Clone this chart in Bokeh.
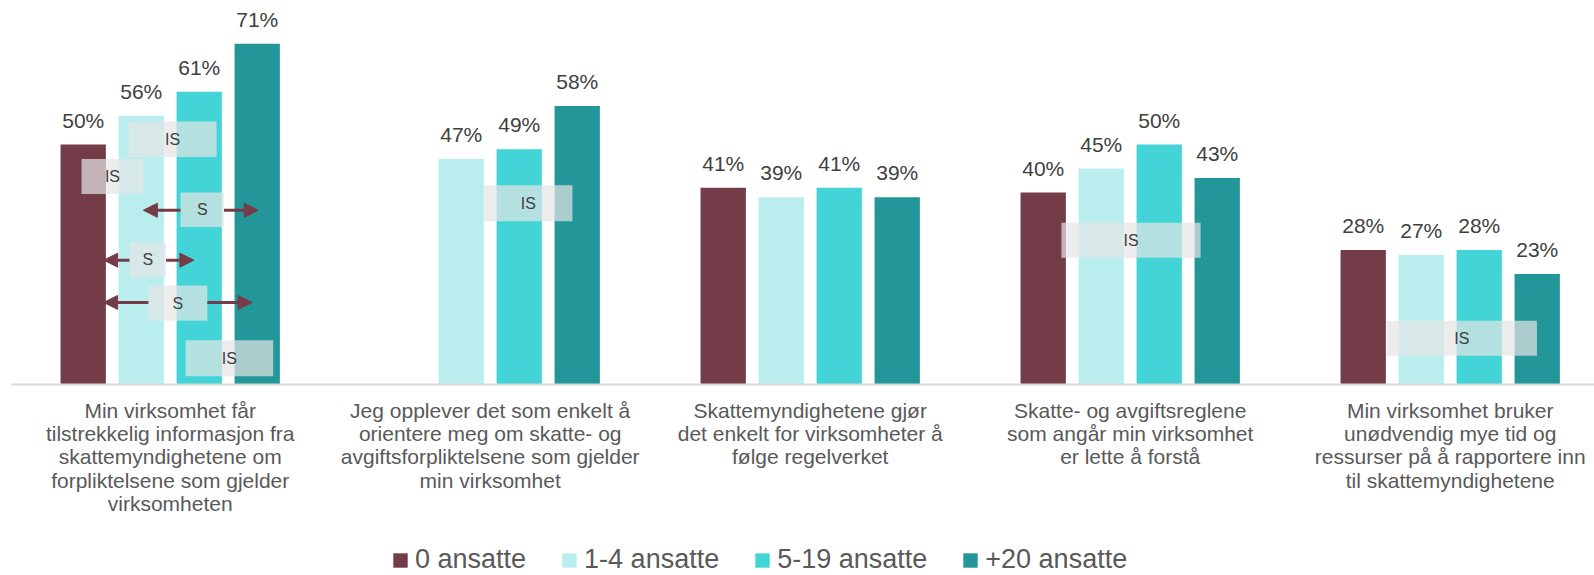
from bokeh.plotting import figure
from bokeh.models import (ColumnDataSource, Range1d, Legend, LegendItem, Span,
                          BoxAnnotation, Label, Arrow, NormalHead)
from bokeh.core.properties import value
from bokeh.embed import file_html
from bokeh.resources import INLINE

# ---------------- data ----------------
categories = [
    "Min virksomhet får\ntilstrekkelig informasjon fra\nskattemyndighetene om\nforpliktelsene som gjelder\nvirksomheten",
    "Jeg opplever det som enkelt å\norientere meg om skatte- og\navgiftsforpliktelsene som gjelder\nmin virksomhet",
    "Skattemyndighetene gjør\ndet enkelt for virksomheter å\nfølge regelverket",
    "Skatte- og avgiftsreglene\nsom angår min virksomhet\ner lette å forstå",
    "Min virksomhet bruker\nunødvendig mye tid og\nressurser på å rapportere inn\ntil skattemyndighetene",
]
series_names = ["0 ansatte", "1-4 ansatte", "5-19 ansatte", "+20 ansatte"]
ansatte_0 = [50, None, 41, 40, 28]
ansatte_1_4 = [56, 47, 39, 45, 27]
ansatte_5_19 = [61, 49, 41, 50, 28]
ansatte_20 = [71, 58, 39, 43, 23]
series_values = [ansatte_0, ansatte_1_4, ansatte_5_19, ansatte_20]

# significance overlays ("IS" boxes): (left, right, top, bottom) in data units
is_boxes = [
    (-0.130, 0.145, 54.8, 47.4),
    (-0.277, -0.084, 47.0, 39.7),
    (0.048, 0.322, 9.2, 1.7),
    (0.981, 1.257, 41.5, 34.0),
    (2.785, 3.220, 33.7, 26.4),
    (3.802, 4.271, 13.3, 6.0),
]
# "S" boxes: (left, right, top, bottom, arrow_y, left_tip, right_tip)
s_boxes = [
    (0.032, 0.168, 40.0, 32.8, 36.3, -0.084, 0.275),
    (-0.127, -0.013, 29.6, 22.4, 25.9, -0.208, 0.074),
    (-0.068, 0.116, 20.6, 13.3, 17.1, -0.208, 0.256),
]

colors = ["#743C48", "#BAEEEE", "#42D4D6", "#229698"]
FONT = "Liberation Sans"

pitch = 0.18125
bar_w = 0.1416

p = figure(width=1594, height=575, output_backend="svg", toolbar_location=None,
           x_range=Range1d(-0.4991, 4.4509), y_range=Range1d(-39.79, 80),
           x_axis_location=None, y_axis_location=None,
           min_border_left=10, min_border_right=0, min_border_top=0, min_border_bottom=0)
p.outline_line_color = None
p.xgrid.visible = False
p.ygrid.visible = False
p.background_fill_color = "white"

# category axis: baseline + category labels
p.add_layout(Span(location=0, dimension="width", line_color="#D9D9D9", line_width=2))
cat_src = ColumnDataSource(dict(x=list(range(len(categories))), y=[0] * len(categories),
                                text=categories))
p.text(x="x", y="y", text="text", source=cat_src, text_align="center", text_baseline="top",
       y_offset=14, text_font=value(FONT), text_font_size="21px", text_color="#595959",
       text_line_height=1.02)

renderers = []
for i, vals in enumerate(series_values):
    xs, ys, labels = [], [], []
    for g, v in enumerate(vals):
        if v is None:
            continue
        xs.append(g + (i - 1.5) * pitch)
        ys.append(v)
        labels.append(f"{v}%")
    src = ColumnDataSource(dict(x=xs, top=ys, label=labels))
    r = p.vbar(x="x", top="top", width=bar_w, bottom=0, source=src,
               fill_color=colors[i], line_color=None)
    renderers.append(r)
    p.text(x="x", y="top", text="label", source=src, text_align="center",
           text_baseline="alphabetic", y_offset=-24.5, text_font=value(FONT),
           text_font_size="21px", text_color="#404040")

box_fill = "#E4E4E4"
for (l, r_, t, b) in is_boxes:
    p.add_layout(BoxAnnotation(left=l, right=r_, top=t, bottom=b, fill_color=box_fill,
                               fill_alpha=0.71, line_color=None))
for (l, r_, t, b, ay, lt, rt) in s_boxes:
    p.add_layout(BoxAnnotation(left=l, right=r_, top=t, bottom=b, fill_color=box_fill,
                               fill_alpha=0.71, line_color=None))
    for (xs_, xe_) in [(l, lt), (r_, rt)]:
        p.add_layout(Arrow(x_start=xs_, y_start=ay, x_end=xe_, y_end=ay,
                           line_color=colors[0], line_width=3,
                           end=NormalHead(size=14, fill_color=colors[0], line_color=colors[0])))

for (l, r_, t, b) in is_boxes:
    p.add_layout(Label(x=(l + r_) / 2, y=(t + b) / 2, text="IS", text_align="center",
                       text_baseline="middle", text_font=FONT, text_font_size="16px",
                       text_color="#404040"))
for (l, r_, t, b, ay, lt, rt) in s_boxes:
    p.add_layout(Label(x=(l + r_) / 2, y=(t + b) / 2, text="S", text_align="center",
                       text_baseline="middle", text_font=FONT, text_font_size="16px",
                       text_color="#404040"))

legend = Legend(items=[LegendItem(label=n, renderers=[r]) for n, r in zip(series_names, renderers)],
                orientation="horizontal", location=(381, 0), glyph_width=18, glyph_height=18,
                label_standoff=6, spacing=34, padding=0, margin=0, border_line_color=None,
                background_fill_alpha=0, label_text_font=FONT, label_text_font_size="27px",
                label_text_color="#595959")
p.add_layout(legend, "center")

open("out.html", "w").write(file_html(p, INLINE))
